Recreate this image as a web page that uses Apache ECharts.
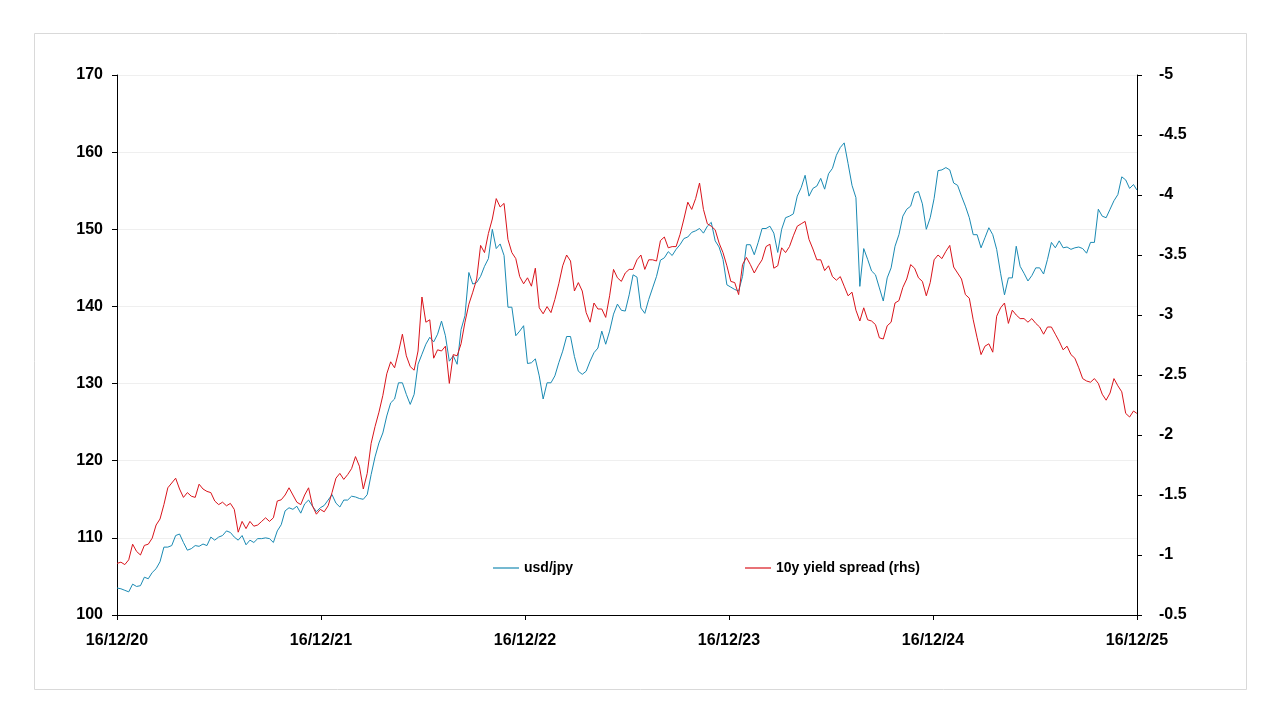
<!DOCTYPE html>
<html><head><meta charset="utf-8">
<script src="https://cdn.jsdelivr.net/npm/echarts/dist/echarts.min.js"></script>
<style>html,body{margin:0;padding:0;background:#fff}#c{width:1280px;height:720px}</style>
</head><body><div id="c"></div>
<script>
// x tick labels (one per year, 16 December)
const xLabels = ['16/12/20','16/12/21','16/12/22','16/12/23','16/12/24','16/12/25'];
const daysPerYear = 365.25;
const weekStepDays = 7;      // sampling step of the series below (weekly)
const lastDay = 1826;        // 16/12/25, final observation

// USD/JPY (left axis), weekly from 16/12/20, last value = 16/12/25
const usdjpy = [
103.5,103.4,103.2,103.0,104.0,103.7,103.8,104.9,104.7,105.5,106.0,106.9,108.8,108.8,109.0,110.3,110.5,109.4,108.4,108.6,109.0,108.9,109.2,109.0,110.1,109.7,110.1,
110.3,110.9,110.7,110.1,109.7,110.3,109.1,109.7,109.4,109.9,109.9,110.0,109.9,109.4,110.9,111.7,113.5,113.9,113.7,114.1,113.2,114.4,114.9,114.1,113.4,113.9,
114.2,114.9,115.6,114.5,114.0,114.9,114.9,115.4,115.3,115.1,115.0,115.6,118.2,120.5,122.3,123.6,125.8,127.5,128.0,130.1,130.1,128.6,127.3,128.6,132.5,133.8,
135.1,136.0,135.4,136.4,138.1,136.2,132.9,133.6,132.5,137.0,138.8,144.4,142.9,143.1,143.9,145.2,146.2,150.0,147.5,148.1,146.6,139.9,139.9,136.2,136.8,137.5,
132.6,132.7,133.2,131.0,128.0,130.1,130.1,131.0,132.7,134.2,136.1,136.1,133.5,131.6,131.2,131.6,132.9,134.0,134.6,136.8,135.1,136.8,139.0,140.3,139.5,139.4,
141.5,144.1,143.8,139.8,139.1,140.9,142.4,143.9,146.0,146.3,147.1,146.6,147.4,148.0,148.8,149.0,149.6,149.8,150.1,149.5,150.4,150.9,148.5,147.7,146.1,142.8,142.5,
142.2,142.0,143.9,148.0,148.0,146.7,148.3,150.1,150.1,150.4,149.5,147.0,150.0,151.5,151.7,152.0,154.3,155.4,157.0,154.3,155.3,155.6,156.6,155.2,157.2,157.9,
159.6,160.6,161.2,158.5,155.7,154.1,142.6,147.5,146.1,144.6,144.1,142.4,140.7,143.7,145.0,147.8,149.3,151.7,152.6,153.0,154.7,154.9,153.3,150.0,151.5,154.0,
157.6,157.7,158.0,157.7,156.0,155.7,154.3,153.0,151.5,149.3,149.3,147.6,148.9,150.2,149.3,147.4,144.3,141.5,143.7,143.7,147.8,145.2,144.3,143.3,144.0,145.0,
145.0,144.2,146.1,148.3,147.6,148.5,147.6,147.7,147.4,147.6,147.7,147.5,146.9,148.3,148.3,152.6,151.7,151.5,152.6,153.7,154.5,156.8,156.4,155.3,155.8,
155.1
];

// 10y yield spread JP-US (right axis, inverted), same dates
const spread = [
-0.93,-0.94,-0.92,-0.96,-1.09,-1.03,-1.00,-1.08,-1.09,-1.14,-1.25,-1.30,-1.42,-1.56,-1.60,-1.64,-1.55,-1.48,-1.52,-1.49,-1.48,-1.59,-1.55,-1.53,-1.52,-1.45,-1.42,
-1.44,-1.41,-1.43,-1.38,-1.19,-1.28,-1.22,-1.28,-1.24,-1.25,-1.28,-1.31,-1.28,-1.31,-1.45,-1.46,-1.50,-1.56,-1.50,-1.44,-1.42,-1.50,-1.56,-1.41,-1.34,-1.38,
-1.36,-1.41,-1.52,-1.64,-1.68,-1.63,-1.67,-1.72,-1.82,-1.74,-1.55,-1.68,-1.93,-2.07,-2.19,-2.33,-2.51,-2.61,-2.56,-2.69,-2.84,-2.66,-2.57,-2.54,-2.70,-3.15,
-2.94,-2.96,-2.64,-2.71,-2.70,-2.74,-2.43,-2.67,-2.66,-2.76,-2.94,-3.09,-3.19,-3.30,-3.58,-3.52,-3.68,-3.80,-3.97,-3.90,-3.93,-3.63,-3.52,-3.47,-3.32,-3.26,
-3.31,-3.24,-3.39,-3.06,-3.01,-3.07,-3.02,-3.13,-3.26,-3.41,-3.50,-3.45,-3.20,-3.27,-3.20,-3.02,-2.94,-3.10,-3.05,-3.05,-2.98,-3.16,-3.38,-3.31,-3.28,-3.35,
-3.38,-3.38,-3.46,-3.50,-3.38,-3.46,-3.46,-3.45,-3.62,-3.65,-3.56,-3.57,-3.57,-3.67,-3.80,-3.94,-3.88,-3.97,-4.10,-3.88,-3.76,-3.74,-3.71,-3.60,-3.52,-3.41,-3.28,
-3.27,-3.17,-3.42,-3.48,-3.42,-3.35,-3.41,-3.46,-3.57,-3.59,-3.39,-3.41,-3.56,-3.52,-3.57,-3.66,-3.74,-3.76,-3.78,-3.63,-3.55,-3.46,-3.46,-3.37,-3.41,-3.32,
-3.29,-3.32,-3.24,-3.16,-3.19,-3.04,-2.95,-3.06,-2.96,-2.95,-2.92,-2.81,-2.80,-2.91,-2.94,-3.10,-3.12,-3.23,-3.30,-3.42,-3.39,-3.31,-3.28,-3.16,-3.27,-3.46,
-3.50,-3.47,-3.53,-3.58,-3.40,-3.35,-3.30,-3.17,-3.14,-2.96,-2.81,-2.67,-2.74,-2.76,-2.69,-2.99,-3.06,-3.10,-2.93,-3.04,-3.00,-2.97,-2.97,-2.94,-2.97,-2.93,
-2.90,-2.84,-2.90,-2.90,-2.84,-2.78,-2.71,-2.74,-2.67,-2.64,-2.56,-2.47,-2.45,-2.44,-2.47,-2.43,-2.34,-2.29,-2.35,-2.47,-2.41,-2.36,-2.18,-2.15,-2.20,
-2.18
];

const seriesNames = ['usd/jpy', '10y yield spread (rhs)'];
const colors = ['#1a8ab3', '#d9141b'];

const days = usdjpy.map((_, i) => i < usdjpy.length - 1 ? i * weekStepDays : lastDay);
const pairs = arr => arr.map((v, i) => [days[i], v]);

const FONT = 'Liberation Sans';
const chart = echarts.init(document.getElementById('c'), null, {renderer: 'canvas'});
chart.setOption({
  backgroundColor: '#ffffff',
  animation: false,
  textStyle: {fontFamily: FONT},
  graphic: [{
    type: 'rect', shape: {x: 34.5, y: 33.5, width: 1212, height: 656},
    style: {fill: 'none', stroke: '#d9d9d9', lineWidth: 1}, silent: true, z: -10
  }],
  grid: {left: 117, right: 143, top: 75, bottom: 105, containLabel: false, outerBoundsMode: 'none'},
  legend: {
    data: seriesNames,
    left: 488, top: 556,
    icon: 'rect', itemWidth: 26, itemHeight: 1.2, itemGap: 172,
    textStyle: {fontFamily: FONT, fontWeight: 'bold', fontSize: 14, color: '#000'}
  },
  xAxis: {
    type: 'value', min: 0, max: lastDay + 0.25, interval: daysPerYear,
    axisLine: {show: true, onZero: false, lineStyle: {color: '#000', width: 1}},
    axisTick: {show: true, inside: false, length: 5, lineStyle: {color: '#000'}},
    splitLine: {show: false},
    axisLabel: {
      margin: 18, color: '#000', fontFamily: FONT, fontWeight: 'bold', fontSize: 16,
      formatter: v => xLabels[Math.round(v / daysPerYear)] || ''
    }
  },
  yAxis: [{
    type: 'value', min: 100, max: 170, interval: 10, position: 'left',
    axisLine: {show: true, onZero: false, lineStyle: {color: '#000', width: 1}},
    axisTick: {show: true, inside: false, length: 5, lineStyle: {color: '#000'}},
    splitLine: {show: true, lineStyle: {color: '#efefef', width: 1}},
    axisLabel: {margin: 14, color: '#000', fontFamily: FONT, fontWeight: 'bold', fontSize: 16}
  }, {
    type: 'value', min: -5, max: -0.5, interval: 0.5, position: 'right', inverse: true,
    axisLine: {show: true, onZero: false, lineStyle: {color: '#000', width: 1}},
    axisTick: {show: true, inside: false, length: 5, lineStyle: {color: '#000'}},
    splitLine: {show: false},
    axisLabel: {margin: 22, color: '#000', fontFamily: FONT, fontWeight: 'bold', fontSize: 16}
  }],
  series: [{
    name: seriesNames[0], type: 'line', yAxisIndex: 0, data: pairs(usdjpy),
    symbol: 'none', showSymbol: false, color: colors[0],
    lineStyle: {color: colors[0], width: 1}, z: 2
  }, {
    name: seriesNames[1], type: 'line', yAxisIndex: 1, data: pairs(spread),
    symbol: 'none', showSymbol: false, color: colors[1],
    lineStyle: {color: colors[1], width: 1}, z: 3
  }]
});
</script>
</body></html>
